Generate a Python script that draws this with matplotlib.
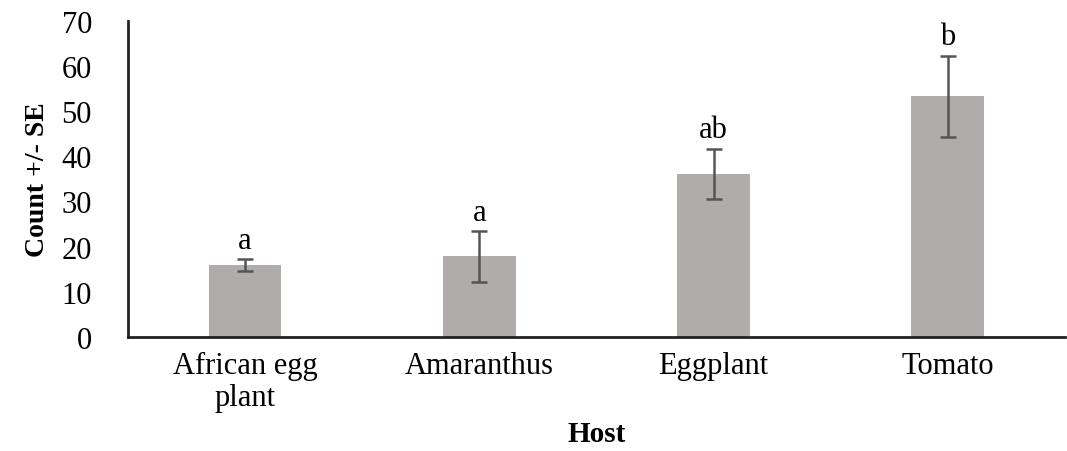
import numpy as np
import matplotlib.pyplot as plt

hosts = ["African egg\nplant", "Amaranthus", "Eggplant", "Tomato"]
counts = [15.9, 17.8, 36.1, 53.3]
se = [1.3, 5.6, 5.6, 9.0]
letters = ["a", "a", "ab", "b"]

plt.rcParams['font.family'] = ['Liberation Serif', 'DejaVu Serif']

fig = plt.figure(figsize=(10.67, 4.52), dpi=100)
ax = fig.add_axes([0.12, 0.253, 0.878, 0.698])

x = np.arange(len(hosts))
ax.bar(x, counts, width=0.31, color='#b0acab', zorder=2)
ax.errorbar(x, counts, yerr=se, fmt='none', ecolor='#555555',
            elinewidth=1.8, capsize=6, capthick=1.8, zorder=3)

for xi, c, e, l in zip(x, counts, se, letters):
    ax.text(xi, c + e + 1.0, l, ha='center', va='bottom', fontsize=22)

ax.set_xlim(-0.5, 3.5)
ax.set_ylim(0, 70)
ax.set_yticks(range(0, 71, 10))
ax.set_xticks(x)
ax.set_xticklabels(hosts, fontsize=22, linespacing=1.15)
ax.tick_params(axis='both', length=0, labelsize=22)
ax.tick_params(axis='x', pad=10)
ax.tick_params(axis='y', pad=26)

for s in ['top', 'right']:
    ax.spines[s].set_visible(False)
for s in ['left', 'bottom']:
    ax.spines[s].set_linewidth(2.0)
    ax.spines[s].set_color('#222222')

ax.set_xlabel("Host", fontsize=21, fontweight='bold', labelpad=6)
ax.set_ylabel("Count +/- SE", fontsize=20, fontweight='bold', labelpad=8)

fig.savefig("out.png", dpi=100)
